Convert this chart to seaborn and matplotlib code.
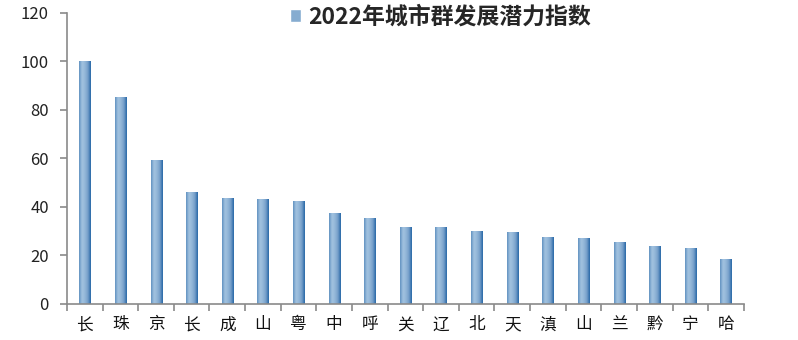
import numpy as np
import pandas as pd
import matplotlib
matplotlib.use("Agg")
import matplotlib.pyplot as plt
from matplotlib.colors import LinearSegmentedColormap
from matplotlib.ticker import FixedLocator
import seaborn as sns

# City-cluster development potential index, 2022
regions = ["长", "珠", "京", "长", "成", "山", "粤", "中", "呼", "关",
           "辽", "北", "天", "滇", "山", "兰", "黔", "宁", "哈"]
index_2022 = [100.0, 85.4, 59.4, 46.2, 43.7, 43.3, 42.5, 37.5, 35.5, 31.8,
              31.8, 30.1, 29.7, 27.6, 27.2, 25.6, 23.9, 23.1, 18.6]
series_name = "2022年城市群发展潜力指数"
y_ticks = [0, 20, 40, 60, 80, 100, 120]

sns.set_theme(style="white")
plt.rcParams["font.family"] = ["Noto Sans CJK SC", "DejaVu Sans"]

df = pd.DataFrame({"region": range(len(regions)), "value": index_2022})

fig = plt.figure(figsize=(7.98, 3.40), dpi=100)
ax = fig.add_axes([0.084, 0.106, 0.848, 0.856])

base = "#86acd0"
sns.barplot(data=df, x="region", y="value", color=base, width=0.31,
            saturation=1, ax=ax, label=series_name)

# cylinder-style shading across each bar
shade = LinearSegmentedColormap.from_list(
    "bar_shade", ["#5f90c0", "#a3c3e0", "#93b7d8", "#769fca", "#2566a6"])
grad = np.linspace(0, 1, 64).reshape(1, -1)
for p in ax.patches:
    x0, y0 = p.get_x(), p.get_y()
    w, h = p.get_width(), p.get_height()
    im = ax.imshow(grad, cmap=shade, aspect="auto",
                   extent=(x0, x0 + w, y0, y0 + h), zorder=p.get_zorder() + 0.1,
                   interpolation="bicubic")
    im.set_clip_path(p)

ax.set_xlim(-0.5, len(regions) - 0.5)
ax.set_ylim(0, 120)
ax.set_yticks(y_ticks)
ax.set_xticks(range(len(regions)))
ax.set_xticklabels(regions)
ax.xaxis.set_minor_locator(FixedLocator(np.arange(-0.5, len(regions), 1.0)))
ax.set_xlabel("")
ax.set_ylabel("")

spine_col = "#8a8a8a"
for side in ["top", "right"]:
    ax.spines[side].set_visible(False)
for side in ["left", "bottom"]:
    ax.spines[side].set_color(spine_col)
    ax.spines[side].set_linewidth(1.2)

ax.tick_params(axis="y", which="major", direction="out", length=5, width=1.2,
               color=spine_col, labelsize=12, labelcolor="#222222", pad=8, left=True)
ax.tick_params(axis="x", which="major", length=0, labelsize=12,
               labelcolor="#111111", pad=9)
ax.tick_params(axis="x", which="minor", direction="out", length=5, width=1.2,
               color=spine_col, bottom=True)

leg = ax.legend(loc="upper center", bbox_to_anchor=(0.552, 1.097), frameon=False,
                handlelength=0.5, handleheight=0.5, handletextpad=0.3,
                prop={"family": ["Noto Sans CJK SC", "DejaVu Sans"],
                      "weight": "bold", "size": 16.5})

fig.savefig("out.png", dpi=100, facecolor="white")
